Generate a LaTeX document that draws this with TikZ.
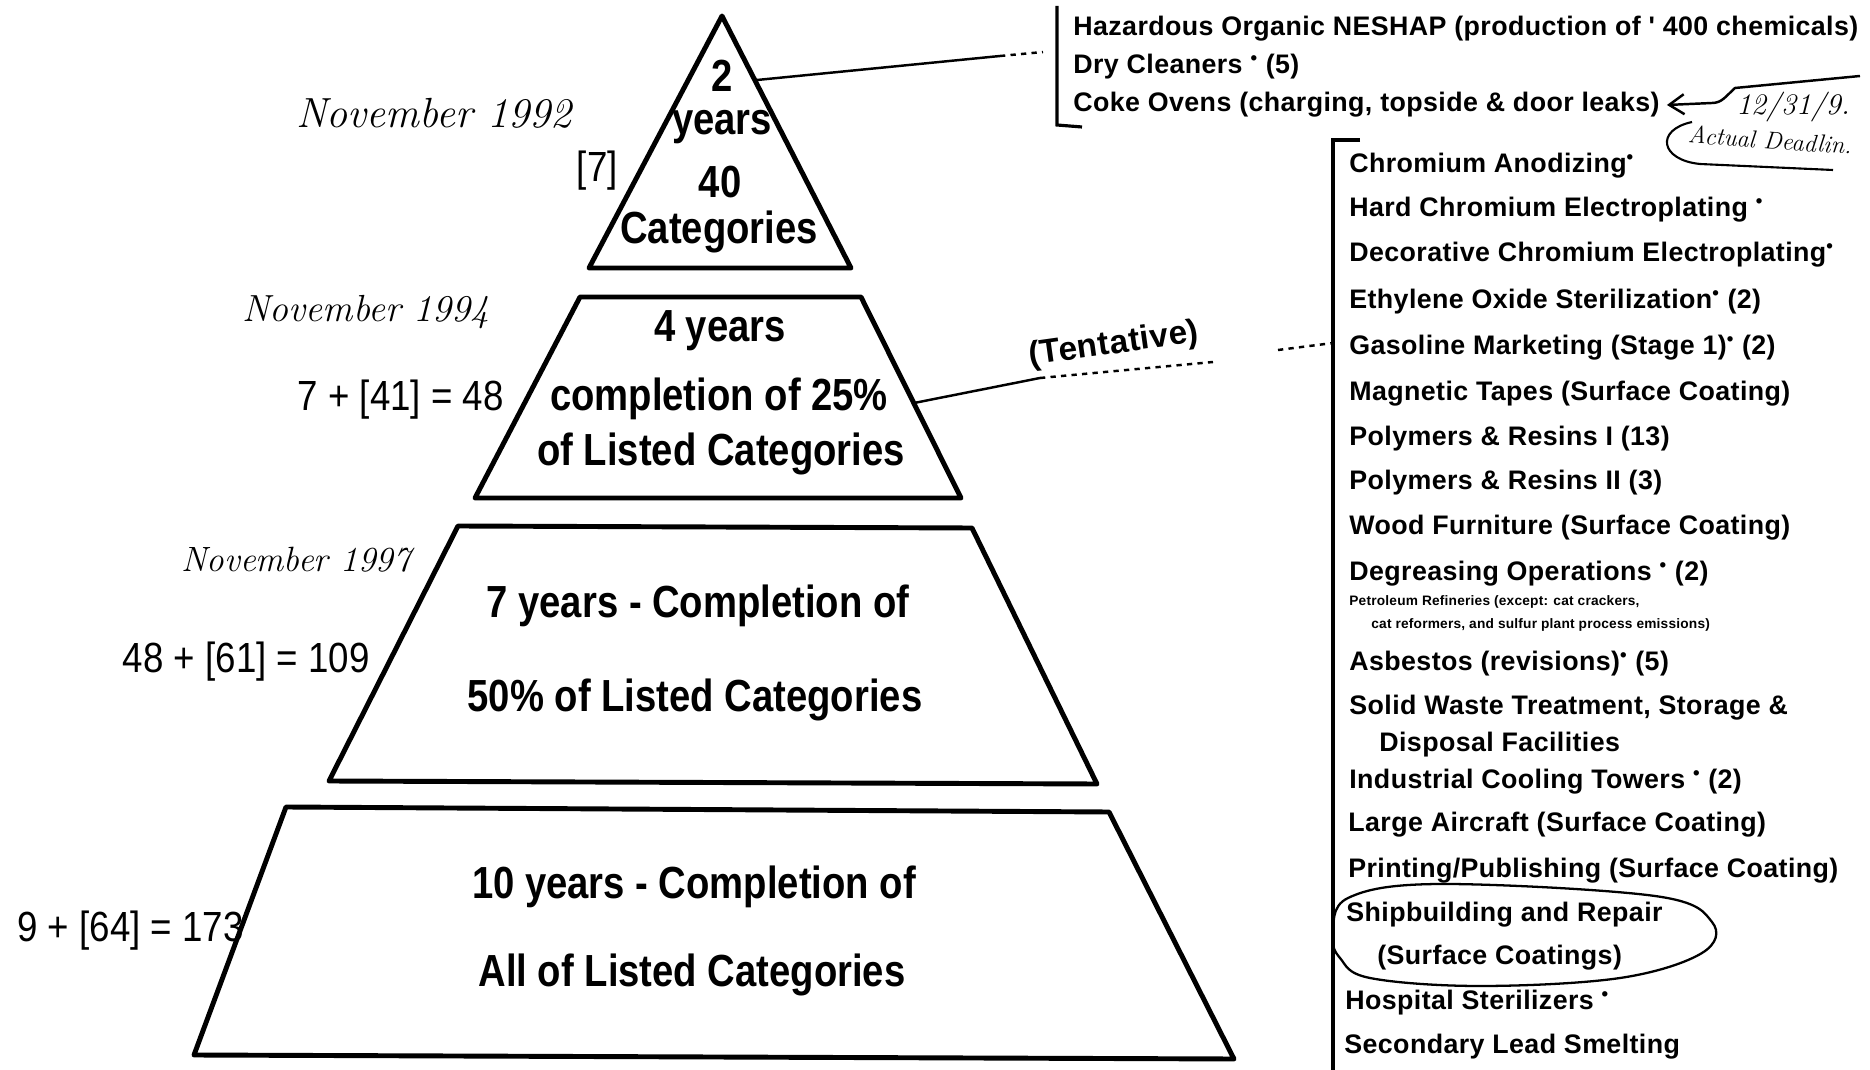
\documentclass[tikz,border=0pt]{standalone}
\usepackage{fontspec}
\newfontfamily\listfont[LetterSpace=1.5]{Liberation Sans}
\newfontfamily\tierfont[FakeStretch=0.85]{Liberation Sans}
\newfontfamily\countfont[FakeStretch=0.87]{Liberation Sans}
\usetikzlibrary{arrows.meta,positioning}
\newcommand\starmark{\textsuperscript{\listfont •}}

\begin{document}
\begin{tikzpicture}[
  x=0.02cm,y=-0.02cm,
  tier/.style={draw,line width=2.8pt,line join=round},
  tiertext/.style={font=\tierfont\bfseries\fontsize{25.6}{28}\selectfont,inner sep=0pt,anchor=base},
  count/.style={font=\countfont\fontsize{24}{26}\selectfont,anchor=east,inner sep=0pt},
  hand/.style={font=\itshape\fontsize{24}{26}\selectfont,inner sep=0pt},
  item/.style={font=\listfont\bfseries\fontsize{15.25}{17}\selectfont,anchor=west,inner sep=0pt},
  note/.style={font=\listfont\bfseries\fontsize{7.8}{9}\selectfont,anchor=west,inner sep=0pt},
  link/.style={line width=1.4pt},
  bracket/.style={line width=1.8pt},
  >={Straight Barb[length=3mm,width=4mm]}
]
\useasboundingbox (0,0) rectangle (1870,1070);

% Pyramid
\draw[tier] (722,16) -- (851,268) -- (589,268) -- cycle;
\draw[tier] (580,297) -- (861,297) -- (961,498) -- (475,498) -- cycle;
\draw[tier] (458,526) -- (972,528) -- (1097,784) -- (329,781) -- cycle;
\draw[tier] (286,807) -- (1109,812) -- (1234,1059) -- (194,1055) -- cycle;

\node[tiertext] (t1a) at (722,92) {2};
\node[tiertext] (t1b) at (722,135) {years};
\node[tiertext] (t1c) at (720,198) {40};
\node[tiertext] (t1d) at (719,244) {Categories};
\node[tiertext] (t2a) at (720,342) {4 years};
\node[tiertext] (t2b) at (719,411) {completion of 25\%};
\node[tiertext] (t2c) at (721,466) {of Listed Categories};
\node[tiertext] (t3a) at (698,618) {7 years - Completion of};
\node[tiertext] (t3b) at (695,712) {50\% of Listed Categories};
\node[tiertext] (t4a) at (694,898) {10 years - Completion of};
\node[tiertext] (t4b) at (692,986) {All of Listed Categories};

% Counts and dates
\node[count] (c1) at (618,171) {[7]};
\node[count] (c2) at (504,400) {7 + [41] = 48};
\node[count] (c3) at (370,662) {48 + [61] = 109};
\node[count] (c4) at (244,931) {9 + [64] = 173};
\node[hand] (nov92) at (434,113) {November 1992};
\node[hand,font=\itshape\fontsize{21.5}{24}\selectfont] (nov94) at (366,312) {November 1994};
\node[hand,font=\itshape\fontsize{20}{22}\selectfont] (nov97) at (296,560) {November 1997};

% First group
\draw[bracket] (1057,6) -- (1057,125) -- (1082,127);
\coordinate (topside) at (757,80);
\coordinate (topend) at (1000,56);
\coordinate (topdash) at (1043,52);
\draw[link] (topside) -- (topend);
\draw[link,dashed] (topend) -- (topdash);
\node[item] (haz) at (1073,29) {Hazardous Organic NESHAP (production of ' 400 chemicals)};
\node[item] (dry) at (1073,67) {Dry Cleaners \starmark\ (5)};
\node[item] (coke) at (1073,105) {Coke Ovens (charging, topside \& door leaks)};

% Deadline note
\coordinate (hwtop) at (1860,76);
\coordinate (hwbend) at (1735,88);
\draw[link,->] (hwtop) -- (hwbend) .. controls (1726,96) and (1722,103) .. (1712,103) -- ([xshift=4pt]coke.east);
\draw[link,line width=1.2pt] (1692,122) .. controls (1655,130) and (1660,160) .. (1700,164) -- (1833,170);
\node[hand,font=\itshape\fontsize{17}{19}\selectfont] (date) at (1793,107) {12/31/9.};
\node[hand,font=\itshape\fontsize{14}{16}\selectfont,rotate=-4] (actual) at (1770,140) {Actual Deadlin.};

% Second group
\draw[bracket] (1360,140) -- (1333,140) -- (1333,1070);
\coordinate (midside) at (914,403);
\coordinate (tentA) at (1040,378);
\coordinate (tentB) at (1213,362);
\coordinate (tentC) at (1278,350);
\coordinate (tentD) at (1333,343);
\draw[link] (midside) -- (tentA);
\draw[link,dashed] (tentA) -- (tentB);
\draw[link,dashed] (tentC) -- (tentD);
\node[font=\listfont\bfseries\fontsize{19}{21}\selectfont,inner sep=0pt,rotate=8] (tentative) at (1114,345) {(Tentative)};

\node[item] (i1) at (1349,166) {Chromium Anodizing\starmark};
\node[item] (i2) at (1349,210) {Hard Chromium Electroplating\ \starmark};
\node[item] (i3) at (1349,255) {Decorative Chromium Electroplating\starmark};
\node[item] (i4) at (1349,302) {Ethylene Oxide Sterilization\starmark\ (2)};
\node[item] (i5) at (1349,348) {Gasoline Marketing (Stage 1)\starmark\ (2)};
\node[item] (i6) at (1349,394) {Magnetic Tapes (Surface Coating)};
\node[item] (i7) at (1349,439) {Polymers \& Resins I (13)};
\node[item] (i8) at (1349,483) {Polymers \& Resins II (3)};
\node[item] (i9) at (1349,528) {Wood Furniture (Surface Coating)};
\node[item] (i10) at (1349,574) {Degreasing Operations \starmark\ (2)};
\node[note] (n1) at (1349,602) {Petroleum Refineries (except: cat crackers,};
\node[note] (n2) at (1371,625) {cat reformers, and sulfur plant process emissions)};
\node[item] (i11) at (1349,664) {Asbestos (revisions)\starmark\ (5)};
\node[item] (i12) at (1349,708) {Solid Waste Treatment, Storage \&};
\node[item] (i12b) at (1379,745) {Disposal Facilities};
\node[item] (i13) at (1349,782) {Industrial Cooling Towers \starmark\ (2)};
\node[item] (i14) at (1348,825) {Large Aircraft (Surface Coating)};
\node[item] (i15) at (1348,871) {Printing/Publishing (Surface Coating)};
\node[item] (i16) at (1346,915) {Shipbuilding and Repair};
\node[item] (i16b) at (1377,958) {(Surface Coatings)};
\node[item] (i17) at (1345,1003) {Hospital Sterilizers \starmark};
\node[item] (i18) at (1344,1047) {Secondary Lead Smelting};
% freehand loop round the shipbuilding entry
\draw[line width=1.3pt] plot[smooth cycle,tension=0.6] coordinates
  {(1333,935) (1348,898) (1440,884) (1655,896) (1712,922) (1702,953) (1620,978) (1480,986) (1370,978) (1340,958)};
\end{tikzpicture}
\end{document}
